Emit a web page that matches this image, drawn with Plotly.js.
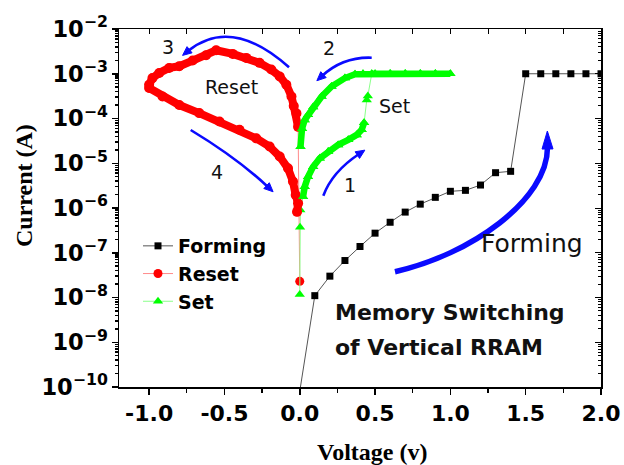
<!DOCTYPE html>
<html><head><meta charset="utf-8">
<script src="https://cdn.plot.ly/plotly-3.0.1.min.js"></script>
<style>html,body{margin:0;padding:0;background:#fff}</style>
</head><body><div id="chart" style="width:624px;height:465px"></div>
<script>
// ---------- DATA ----------
// Forming sweep
const formingV = [0, 0.1, 0.2, 0.3, 0.4, 0.5, 0.6, 0.7, 0.8, 0.9, 1.0, 1.1, 1.2, 1.3, 1.4, 1.5, 1.6, 1.7, 1.8, 1.9, 2.0];
const formingI = [8e-11, 1.1e-8, 3.0e-8, 6.7e-8, 1.38e-7, 2.74e-7, 4.8e-7, 8.1e-7, 1.22e-6, 1.73e-6, 2.36e-6, 2.48e-6, 3.26e-6, 6.15e-6, 6.6e-6, 1e-3, 1e-3, 1e-3, 1e-3, 1e-3, 1e-3];

// Reset sweep (0 -> -1 V -> 0)
const resetStartV = [0];
const resetStartI = [2.3e-8];
const resetUpV = [-0.011, -0.022, -0.04, -0.055, -0.089, -0.133, -0.189, -0.267, -0.355, -0.445, -0.555, -0.622, -0.711, -0.8, -0.867, -0.933, -0.978, -1.0];
const resetUpI = [6.5e-5, 1.3e-4, 1.9e-4, 3.1e-4, 5.7e-4, 8.7e-4, 1.24e-3, 1.75e-3, 2.26e-3, 2.78e-3, 3.35e-3, 2.59e-3, 1.97e-3, 1.47e-3, 1.35e-3, 1.04e-3, 8.0e-4, 5.7e-4];
const resetDownV = [-1.0, -0.911, -0.8, -0.667, -0.533, -0.4, -0.289, -0.2, -0.133, -0.078, -0.045, -0.027, -0.011, -0.018];
const resetDownI = [4.8e-4, 3.1e-4, 2.0e-4, 1.32e-4, 8.6e-5, 5.6e-5, 3.6e-5, 2.36e-5, 1.41e-5, 7.7e-6, 3.9e-6, 1.95e-6, 1.27e-6, 8.2e-7];

// Set sweep (0 -> 1 V -> 0)
const setStartV = [0, 0.002, 0.004];
const setStartI = [1.17e-8, 3.7e-7, 9e-7];
const setLowV = [0.022, 0.033, 0.055, 0.089, 0.133, 0.189, 0.255, 0.322, 0.378, 0.411, 0.427];
const setLowI = [1.78e-6, 3.0e-6, 5.0e-6, 8.4e-6, 1.29e-5, 1.82e-5, 2.57e-5, 3.33e-5, 4.3e-5, 5.6e-5, 8.0e-5];
const setJumpV = [0.445, 0.452];
const setJumpI = [2.6e-4, 3.2e-4];
const setHighV = [0.478, 0.6, 0.7, 0.8, 0.9, 1.0, 0.9, 0.8, 0.7, 0.6, 0.5, 0.42, 0.367, 0.3, 0.211, 0.145, 0.089, 0.055, 0.033, 0.015, 0.005];
const setHighI = [1e-3, 1e-3, 1e-3, 1e-3, 1e-3, 1e-3, 1e-3, 1e-3, 1e-3, 1e-3, 1e-3, 1e-3, 9.8e-4, 8.0e-4, 5.2e-4, 3.1e-4, 1.8e-4, 1.21e-4, 9.3e-5, 5.9e-5, 2.35e-5];

// Tick labels
const xTickVals = [-1.0, -0.5, 0, 0.5, 1.0, 1.5, 2.0];
const xTickText = ['-1.0', '-0.5', '0.0', '0.5', '1.0', '1.5', '2.0'];

// ---------- LAYOUT GEOMETRY ----------
const FIG_W = 624, FIG_H = 465;
const M = {l: 119, r: 23, t: 29, b: 78};
const PW = FIG_W - M.l - M.r, PH = FIG_H - M.t - M.b;
function P(px, py) { return [(px - M.l) / PW, (FIG_H - M.b - py) / PH]; }

const RED = '#ff0000', GREEN = '#00ff00', BLUE = '#0a0aff';
const bandRed = {color: RED, width: 8};
const bandGreen = {color: GREEN, width: 6.5};

const traces = [
  {x: formingV, y: formingI, name: 'Forming', mode: 'lines+markers',
   line: {color: '#555555', width: 1}, marker: {symbol: 'square', size: 7, color: '#000'}},
  {x: resetStartV.concat(resetUpV, resetDownV), y: resetStartI.concat(resetUpI, resetDownI),
   name: 'Reset', mode: 'lines+markers', line: {color: '#ff8a8a', width: 1},
   marker: {symbol: 'circle', size: 9, color: RED}},
  {x: setStartV.concat(setLowV, setJumpV, setHighV), y: setStartI.concat(setLowI, setJumpI, setHighI),
   name: 'Set', mode: 'lines+markers', line: {color: '#8aff8a', width: 1},
   marker: {symbol: 'triangle-up', size: 9, color: GREEN}},
  {x: resetUpV, y: resetUpI, mode: 'lines+markers', line: bandRed, marker: {symbol: 'circle', size: 10, color: RED}, showlegend: false},
  {x: resetDownV, y: resetDownI, mode: 'lines+markers', line: bandRed, marker: {symbol: 'circle', size: 10, color: RED}, showlegend: false},
  {x: setLowV, y: setLowI, mode: 'lines+markers', line: bandGreen, marker: {symbol: 'triangle-up', size: 9, color: GREEN}, showlegend: false},
  {x: setHighV, y: setHighI, mode: 'lines+markers', line: bandGreen, marker: {symbol: 'triangle-up', size: 9, color: GREEN}, showlegend: false},
  {x: [], y: [], xaxis: 'x2', yaxis: 'y2', showlegend: false, hoverinfo: 'skip'}
];

// ---------- BLUE ARROWS (decorations, figure pixel coords) ----------
const arrows = [
  {p0: [289, 67.3], c: [231.5, 15.85], p1: [188, 51], w: 2.6, hl: 9, hw: 8},
  {p0: [190.7, 130], c: [237.25, 158.1], p1: [268, 187], w: 2.6, hl: 9, hw: 8},
  {p0: [371.7, 57.7], c: [343.15, 56.55], p1: [322, 76], w: 2.6, hl: 9, hw: 8},
  {p0: [323.3, 195.7], c: [332.25, 171.75], p1: [359, 154], w: 2.6, hl: 9, hw: 8},
  {p0: [395, 271.7], c1: [470, 255], c2: [548, 200], p1: [547.5, 147], w: 5.5, hl: 18, hw: 11}
];
const shapes = [];
function pp(pt) { const q = P(pt[0], pt[1]); return q[0].toFixed(5) + ',' + q[1].toFixed(5); }
arrows.forEach(a => {
  let d, last;
  if (a.c1) { d = 'M' + pp(a.p0) + ' C' + pp(a.c1) + ' ' + pp(a.c2) + ' ' + pp(a.p1); last = a.c2; }
  else { d = 'M' + pp(a.p0) + ' Q' + pp(a.c) + ' ' + pp(a.p1); last = a.c; }
  shapes.push({type: 'path', xref: 'paper', yref: 'paper', path: d, line: {color: BLUE, width: a.w}});
  let ux = a.p1[0] - last[0], uy = a.p1[1] - last[1];
  const n = Math.hypot(ux, uy); ux /= n; uy /= n;
  const bx = a.p1[0] - ux * 2, by = a.p1[1] - uy * 2;
  const tip = [bx + ux * a.hl, by + uy * a.hl];
  const l = [bx - uy * a.hw / 2, by + ux * a.hw / 2];
  const r = [bx + uy * a.hw / 2, by - ux * a.hw / 2];
  shapes.push({type: 'path', xref: 'paper', yref: 'paper', path: 'M' + pp(l) + ' L' + pp(tip) + ' L' + pp(r) + ' Z',
    fillcolor: BLUE, line: {color: BLUE, width: 1}});
});

// ---------- TEXT ----------
const fNum = {family: 'DejaVu Sans', size: 19, color: '#111'};
function ann(text, px, py, font, extra) {
  const q = P(px, py);
  return Object.assign({xref: 'paper', yref: 'paper', x: q[0], y: q[1], text: text, showarrow: false,
    xanchor: 'center', yanchor: 'middle', font: font}, extra || {});
}
const annotations = [
  ann('3', 168, 47, fNum),
  ann('Reset', 231, 87, fNum),
  ann('4', 217, 172, fNum),
  ann('2', 329, 48, fNum),
  ann('Set', 394, 106, fNum),
  ann('1', 350, 185, fNum),
  ann('Forming', 532, 243, {family: 'DejaVu Sans', size: 25, color: '#111'}),
  ann('Memory Switching', 333, 312, {family: 'DejaVu Sans', size: 22, weight: 'bold', color: '#111'}, {xanchor: 'left'}),
  ann('of Vertical RRAM', 333, 347, {family: 'DejaVu Sans', size: 22, weight: 'bold', color: '#111'}, {xanchor: 'left'}),
  ann('Current (A)', 24, 186, {family: 'Liberation Serif', size: 24, weight: 'bold', color: '#000'}, {textangle: -90}),
  ann('Voltage (v)', 372, 452, {family: 'Liberation Serif', size: 24, weight: 'bold', color: '#000'})
];

const layout = {
  width: FIG_W, height: FIG_H, margin: M,
  paper_bgcolor: '#fff', plot_bgcolor: '#fff',
  showlegend: true,
  legend: {x: P(138, 0)[0], y: P(0, 227)[1], xanchor: 'left', yanchor: 'top', bgcolor: 'rgba(0,0,0,0)',
    font: {family: 'DejaVu Sans', size: 19, weight: 'bold', color: '#000'}, tracegroupgap: 0},
  xaxis: {range: [-1.2, 2.0], tickmode: 'array', tickvals: xTickVals, ticktext: xTickText,
    ticks: 'outside', ticklen: 6, tickwidth: 1.5, tickcolor: '#000',
    minor: {ticks: 'outside', ticklen: 4, tickwidth: 1.2, tick0: 0, dtick: 0.25, tickcolor: '#000'},
    showline: true, linecolor: '#000', linewidth: 1.5, mirror: true, showgrid: false, zeroline: false,
    tickfont: {family: 'DejaVu Sans', size: 22, weight: 'bold', color: '#000'}},
  yaxis: {type: 'log', range: [-10, -2], dtick: 1, exponentformat: 'power',
    ticks: 'outside', ticklen: 6, tickwidth: 1.5, tickcolor: '#000',
    minor: {ticks: 'outside', ticklen: 3, dtick: 'D1', tickcolor: '#000'},
    showline: true, linecolor: '#000', linewidth: 1.5, mirror: true, showgrid: false, zeroline: false,
    tickfont: {family: 'DejaVu Sans', size: 18, weight: 'bold', color: '#000'}},
  xaxis2: {overlaying: 'x', side: 'top', range: [-1.2, 2.0], tick0: 0, dtick: 0.25, ticks: 'inside', ticklen: 5,
    tickcolor: '#000', showticklabels: false, showgrid: false, zeroline: false, showline: false},
  yaxis2: {overlaying: 'y', side: 'right', type: 'log', range: [-10, -2], dtick: 1, ticks: 'inside', ticklen: 6,
    tickcolor: '#000', minor: {ticks: 'inside', ticklen: 3, dtick: 'D1', tickcolor: '#000'},
    showticklabels: false, showgrid: false, zeroline: false, showline: false},
  shapes: shapes,
  annotations: annotations
};
Plotly.newPlot('chart', traces, layout, {displayModeBar: false, staticPlot: true});
</script></body></html>
